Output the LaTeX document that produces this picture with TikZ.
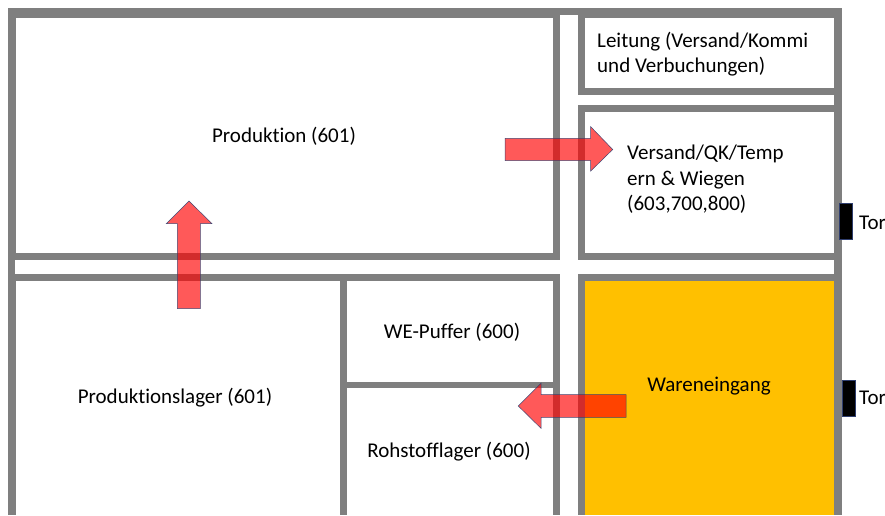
\documentclass[tikz,border=0pt]{standalone}
\usepackage{fontspec}
\setmainfont{Carlito}[Ligatures=NoCommon]
\definecolor{wall}{RGB}{127,127,127}
\definecolor{goods}{RGB}{255,192,0}
\definecolor{edgeblue}{RGB}{47,62,110}
\tikzset{
  wallbar/.style={fill=wall},
  roomfill/.style={fill=white},
  goodsfill/.style={fill=goods},
  roomlabel/.style={inner sep=0pt,text=black,font=\fontsize{21}{25.5}\selectfont,align=left},
  flowarrow/.style={fill=red,fill opacity=0.65,draw=edgeblue,line width=0.5pt,draw opacity=0.9,line join=miter},
  doorbar/.style={fill=black,draw=edgeblue,line width=0.3pt}
}
\begin{document}
\begin{tikzpicture}[x=1pt,y=-1pt]
\useasboundingbox (0,0) rectangle (885,515);
\fill[white] (0,0) rectangle (885,515);
% building walls
\path[wallbar] (8,8) rectangle (841.5,515);
% corridors
\path[roomfill] (560,15) rectangle (577.7,515);
\path[roomfill] (14.5,259.6) rectangle (834,273.6);
\path[roomfill] (577.7,95) rectangle (834,105);
% rooms
\path[roomfill] (16,18) rectangle (553,252.7);
\path[roomfill] (584.7,18) rectangle (834,87.7);
\path[roomfill] (584.7,112) rectangle (834,252.7);
\path[roomfill] (16,280.5) rectangle (340,515);
\path[roomfill] (347.3,280.5) rectangle (553,381.7);
\path[roomfill] (347.3,388.3) rectangle (553,515);
\path[goodsfill] (584.7,280.5) rectangle (834,515);
% doors
\path[doorbar] (839,203.3) rectangle (851.7,239.3);
\path[doorbar] (841.7,380) rectangle (855,415.7);
% labels
\node[roomlabel] (produktion) at (284,136) {Produktion (601)};
\node[roomlabel,anchor=west] (leitung) at (597,54) {Leitung (Versand/Kommi\\und Verbuchungen)};
\node[roomlabel,anchor=west] (versand) at (627,179.5) {Versand/QK/Temp\\ern \& Wiegen\\(603,700,800)};
\node[roomlabel] (lager) at (175,398) {Produktionslager (601)};
\node[roomlabel] (puffer) at (452,332) {WE-Puffer (600)};
\node[roomlabel] (rohstoff) at (449,452) {Rohstofflager (600)};
\node[roomlabel] (wareneingang) at (709,386) {Wareneingang};
\node[roomlabel,anchor=west] (tora) at (859,223) {Tor};
\node[roomlabel,anchor=west] (torb) at (859,398) {Tor};
% flow arrows
\path[flowarrow] (505,138.3) -- (590.7,138.3) -- (590.7,126.7) -- (612.7,149.5) -- (590.7,171) -- (590.7,160.7) -- (505,160.7) -- cycle;
\path[flowarrow] (177.3,308.7) -- (177.3,223.7) -- (166.3,223.7) -- (189,201) -- (212,223.7) -- (200.3,223.7) -- (200.3,308.7) -- cycle;
\path[flowarrow] (626,394.7) -- (541,394.7) -- (541,383.3) -- (518.3,406) -- (541,428.3) -- (541,417.3) -- (626,417.3) -- cycle;
\end{tikzpicture}
\end{document}
